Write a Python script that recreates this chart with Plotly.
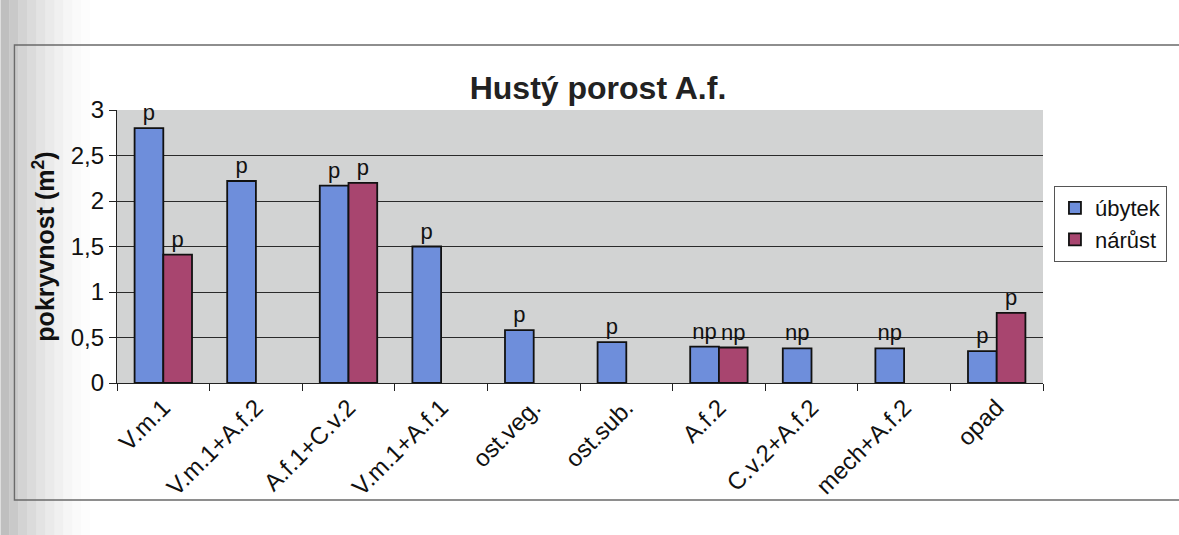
import plotly.graph_objects as go

# Data: cover change per category (m²)
categories = ["V.m.1", "V.m.1+A.f.2", "A.f.1+C.v.2", "V.m.1+A.f.1", "ost.veg.",
              "ost.sub.", "A.f.2", "C.v.2+A.f.2", "mech+A.f.2", "opad"]
ubytek = [2.80, 2.22, 2.17, 1.50, 0.58, 0.45, 0.40, 0.38, 0.38, 0.35]
narust = [1.41, None, 2.20, None, None, None, 0.39, None, None, 0.77]
ubytek_sig = ["p", "p", "p", "p", "p", "p", "np", "np", "np", "p"]
narust_sig = ["p", None, "p", None, None, None, "np", None, None, "p"]
y_ticks = [0, 0.5, 1, 1.5, 2, 2.5, 3]

W, H = 1179, 535
L, R, T, B = 117, 132, 110, 152
pw, ph = W - L - R, H - T - B


def px_x(px):
    return (px - L) / pw


def px_y(py):
    return (H - B - py) / ph


# only categories where an increase was measured get a nárůst bar
n_idx = [i for i, v in enumerate(narust) if v is not None]

fig = go.Figure()
fig.add_trace(go.Bar(
    name="úbytek", x=categories, y=ubytek, text=ubytek_sig,
    textposition="outside", cliponaxis=False,
    textfont=dict(size=22, color="#111"),
    marker=dict(color="#6E8EDB", line=dict(color="#111", width=1.8)),
))
fig.add_trace(go.Bar(
    name="nárůst", x=[categories[i] for i in n_idx], y=[narust[i] for i in n_idx],
    text=[narust_sig[i] for i in n_idx],
    textposition="outside", cliponaxis=False,
    textfont=dict(size=22, color="#111"),
    marker=dict(color="#A8456F", line=dict(color="#111", width=1.8)),
))

shapes = []
# soft grey shading along the left page edge
for i in range(10):
    shapes.append(dict(type="rect", xref="paper", yref="paper", layer="below",
                       x0=px_x(i * 9), x1=px_x(i * 9 + 9), y0=px_y(H), y1=px_y(0),
                       fillcolor="#959595", opacity=0.6 * (1 - i / 10) ** 1.6,
                       line=dict(width=0)))
# chart-area frame
shapes.append(dict(type="rect", xref="paper", yref="paper", layer="below",
                   x0=px_x(14), x1=px_x(1190), y0=px_y(500), y1=px_y(45),
                   line=dict(color="#6a6a6a", width=1.4), fillcolor="rgba(0,0,0,0)"))

fig.update_layout(
    width=W, height=H,
    margin=dict(l=L, r=R, t=T, b=B),
    paper_bgcolor="white",
    plot_bgcolor="#D2D3D3",
    separators=", ",
    barmode="group",
    bargap=0.38,
    bargroupgap=0.0,
    font=dict(family="Liberation Sans, Arial, sans-serif", color="#111"),
    title=dict(text="<b>Hustý porost A.f.</b>", x=(598 / W),
               xanchor="center", y=1 - 88 / H, yanchor="middle",
               font=dict(size=32, color="#222")),
    legend=dict(x=px_x(1058), y=px_y(186), xanchor="left", yanchor="top",
                bgcolor="white", bordercolor="#555", borderwidth=1,
                font=dict(size=22, color="#111"), itemwidth=30,
                tracegroupgap=2),
    shapes=shapes,
    xaxis=dict(
        categoryorder="array", categoryarray=categories,
        tickangle=-45, tickfont=dict(size=24, color="#111"),
        ticks="outside", tickson="boundaries", ticklen=7, tickcolor="#222",
        showline=True, linecolor="#222", linewidth=1.2,
        showgrid=False,
    ),
    yaxis=dict(
        range=[0, 3], tickvals=y_ticks, tickfont=dict(size=24, color="#111"),
        ticks="outside", ticklen=7, tickcolor="#222",
        showline=True, linecolor="#222", linewidth=1.2,
        showgrid=True, gridcolor="#2a2a2a", gridwidth=1,
        title=dict(text="<b>pokryvnost (m<sup>2</sup>)</b>", font=dict(size=25), standoff=8),
        zeroline=False,
    ),
)

fig.write_html("out.html")
